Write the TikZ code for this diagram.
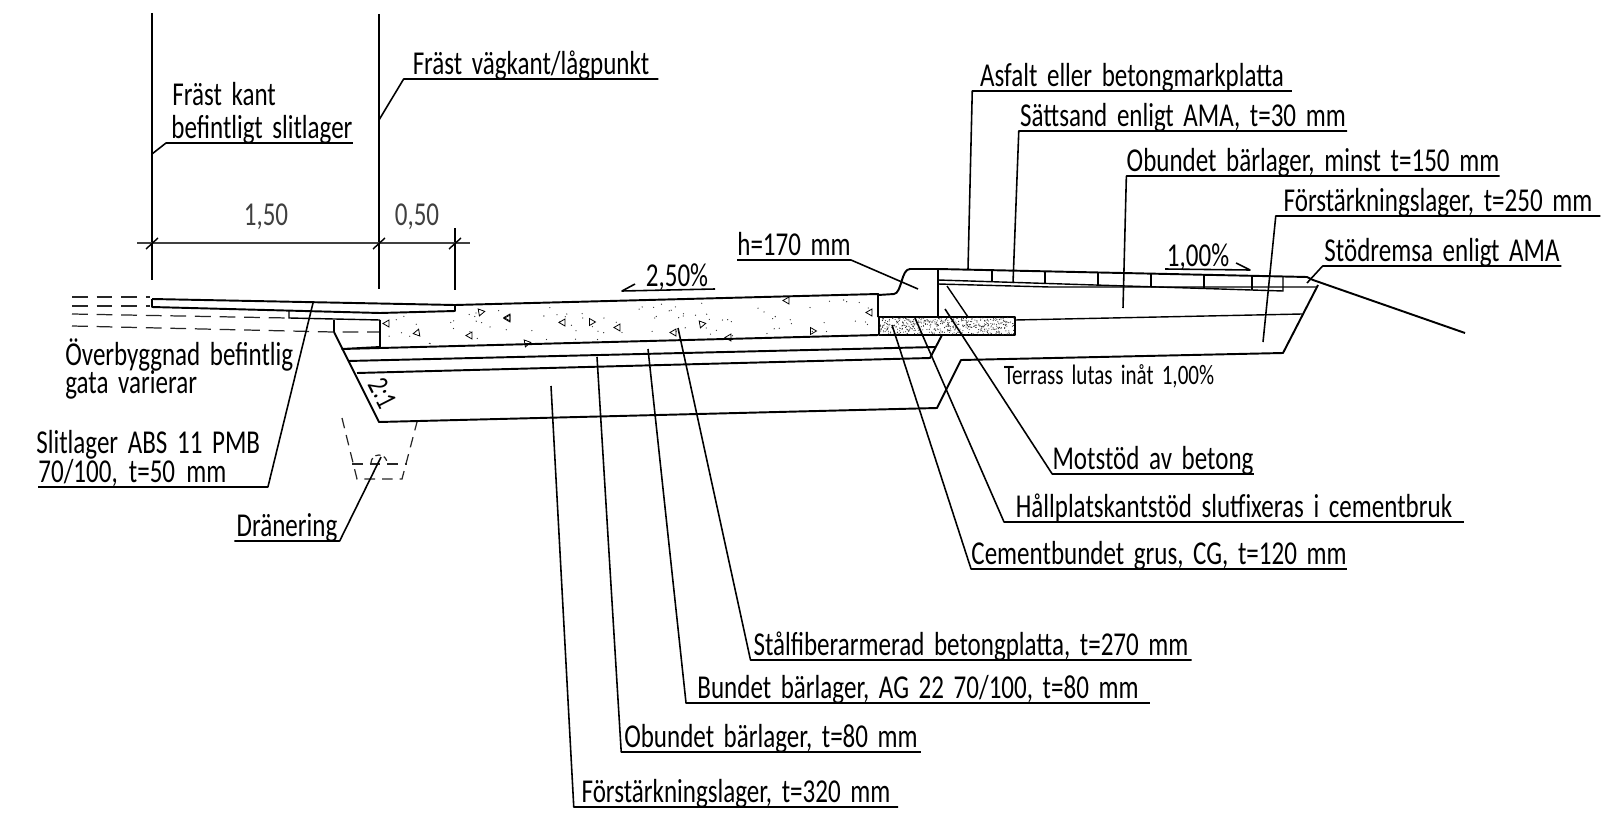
\documentclass[tikz,border=0pt]{standalone}
\usepackage{fontspec}
\setmainfont{Carlito}[FakeStretch=0.75,WordSpace=1.7]
\tikzset{
    road/.style={line width=1.1pt, black, line join=round},
    thinline/.style={line width=0.8pt, black},
    dashline/.style={line width=0.7pt, black!85, dash pattern=on 9pt off 5pt},
    leader/.style={line width=0.9pt, black, line join=round},
    dimline/.style={line width=0.6pt, black!75},
    notelabel/.style={anchor=south, inner xsep=0pt, inner ysep=0pt, text height=15pt, text depth=2.2pt, font=\fontsize{19}{21}\selectfont, minimum width=#1*0.567pt},
    plainlabel/.style={inner sep=0pt, font=\fontsize{19}{21}\selectfont},
    grain/.style={line width=0.45pt, black}
}
\begin{document}
\begin{tikzpicture}[x=0.02cm, y=-0.02cm]
    \useasboundingbox (0,0) rectangle (1601,814);

    % Dimension lines at the top
    \coordinate (ext_a_top) at (152,13);
    \coordinate (ext_a_low) at (152,280);
    \coordinate (ext_b_top) at (379,14);
    \coordinate (ext_b_low) at (379,289);
    \coordinate (ext_c_top) at (455,228);
    \coordinate (ext_c_low) at (455,290);
    \coordinate (dim_left) at (137,243);
    \coordinate (dim_right) at (470,243);
    \draw[road] (ext_a_top) -- (ext_a_low);
    \draw[road] (ext_b_top) -- (ext_b_low);
    \draw[thinline] (ext_c_top) -- (ext_c_low);
    \draw[dimline] (dim_left) -- (dim_right);
    \foreach \xtick in {152,379,455} {
        \draw[thinline] (\xtick-6,249) -- (\xtick+6,238);
    }
    \node[plainlabel, black!75] (dim_150) at (266,217) {1,50};
    \node[plainlabel, black!75] (dim_050) at (417,217) {0,50};

    % Existing street on the left
    \begin{scope}[local bounding box=oldstreet]
        \draw[road] (152,299) -- (455,305);
        \draw[road] (152,299) -- (152,307) -- (380,313) -- (455,311) -- (455,305);
        \draw[thinline] (289,310) -- (289,318) -- (380,320);
        \draw[thinline] (334,320) -- (334,332);
        \draw[dashline] (72,297) -- (150,297);
        \draw[dashline] (72,306) -- (150,306);
        \draw[dashline] (72,314) -- (288,318);
        \draw[dashline] (72,326) -- (333,332) -- (379,332);
    \end{scope}

    % Concrete slab
    \begin{scope}[local bounding box=slab]
        \draw[road] (455,305) -- (878,294) -- (878,317);
        \draw[road] (380,320) -- (380,347) -- (342,349) -- (878,335);
        \pgfmathsetseed{27}
        \foreach \k in {1,...,90} {
            \pgfmathsetmacro{\px}{385+rnd*488}
            \pgfmathsetmacro{\py}{345-(\px-380)*0.0245-rnd*34}
            \fill[black!80] (\px,\py) circle (0.65);
        }
        \foreach \tx/\ty/\trot in {389/323/90, 417/335/200, 472/335/90, 481/310/20, 510/317/90,
            510/318/90, 565/322/90, 592/320/30, 620/327/90, 676/332/90, 702/322/20, 731/337/90,
            789/300/90, 813/329/30, 872/312/90, 527/341/20} {
            \draw[grain] (\tx,\ty) ++(\trot:4) -- ++(\trot+120:7) -- ++(\trot+240:7) -- cycle;
        }
    \end{scope}

    % Layers under the slab
    \begin{scope}[local bounding box=layers]
        \draw[road] (334,332) -- (379,422) -- (937,408) -- (961,360) -- (1283,353) -- (1318,285);
        \draw[road] (348,361) -- (935,347);
        \draw[road] (357,373) -- (930,358) -- (942,335);
        \node[plainlabel, rotate=-63, font=\fontsize{17}{17}\selectfont] (slope_21) at (383,393) {2:1};
    \end{scope}

    % Kerb and cement bound gravel
    \begin{scope}[local bounding box=kerb]
        \draw[road] (878,295) -- (894,294) .. controls (902,293) and (901,269) .. (910,269) -- (938,269) -- (938,317);
        \draw[road] (879,317) rectangle (1015,335);
        \begin{scope}
            \clip (879,317) rectangle (1015,335);
            \pgfmathsetseed{11}
            \foreach \k in {1,...,520} {
                \fill[black!85] (879+rnd*136,317+rnd*18) circle (0.55);
            }
        \end{scope}
    \end{scope}

    % Pavement behind the kerb
    \begin{scope}[local bounding box=pavement]
        \draw[road] (938,269) -- (1307,277) -- (1313,280) -- (1465,333);
        \draw[thinline] (938,280) -- (1283,291) -- (1283,277);
        \draw[thinline] (938,284) -- (1050,287) -- (1317,287);
        \foreach \xjoint in {992,1045,1098,1151,1204,1252} {
            \draw[thinline] (\xjoint,{269+(\xjoint-938)*0.0217}) -- (\xjoint,{280+(\xjoint-938)*0.0319});
        }
        \draw[thinline] (947,286) -- (968,317);
        \draw[thinline] (1015,320) -- (1302,314);
    \end{scope}

    % Drainage
    \begin{scope}[local bounding box=drainage]
        \draw[dashline, dash pattern=on 6pt off 4pt] (342,418) -- (357,479) -- (402,479) -- (417,422);
        \draw[dashline, dash pattern=on 6pt off 4pt] (352,464) -- (407,464);
        \draw[dashline, dash pattern=on 3pt off 2pt] (371,463) arc (180:360:8);
    \end{scope}

    % Slopes
    \node[plainlabel] (slope_250) at (677,277) {2,50\%};
    \draw[leader] (635,284) -- (622,291) -- (715,289);
    \node[plainlabel] (slope_100) at (1198,257) {1,00\%};
    \draw[leader] (1165,269) -- (1250,270) -- (1236,263);
    \node[plainlabel, font=\fontsize{16}{17}\selectfont] (terrace) at (1109,376) {Terrass lutas inåt 1,00\%};

    % Notes on the left
    \node[notelabel=181] (note_kant) at (262,143) {befintligt slitlager};
    \node[plainlabel, anchor=west] (note_kant_top) at (172,94) {Fräst kant};
    \coordinate (pt_kant) at (152,154);
    \coordinate (bend_kant) at (166,143);
    \draw[leader] (pt_kant) -- (bend_kant) -- (note_kant.south east);

    \node[notelabel=255] (note_kant2) at (531,79) {Fräst vägkant/lågpunkt};
    \coordinate (pt_kant2) at (379,120);
    \draw[leader] (pt_kant2) -- (note_kant2.south west) -- (note_kant2.south east);

    \node[plainlabel, anchor=west] (note_old) at (65,355) {Överbyggnad befintlig};
    \node[plainlabel, anchor=west] (note_old2) at (65,385) {gata varierar};

    \node[notelabel=230, text width=230*0.567pt, align=left] (note_slit) at (153,487) {70/100, t=50 mm};
    \node[plainlabel, anchor=west] (note_slit_top) at (36,445) {Slitlager ABS 11 PMB};
    \coordinate (pt_slit) at (313,303);
    \draw[leader] (pt_slit) -- (note_slit.south east) -- (note_slit.south west);

    \node[notelabel=105] (note_drain) at (287,541) {Dränering};
    \coordinate (pt_drain) at (381,457);
    \draw[leader] (pt_drain) -- (note_drain.south east) -- (note_drain.south west);

    % Notes under the road
    \node[notelabel=442] (note_steel) at (971,660) {Stålfiberarmerad betongplatta, t=270 mm};
    \coordinate (pt_steel) at (678,328);
    \draw[leader] (pt_steel) -- (note_steel.south west) -- (note_steel.south east);

    \node[notelabel=465] (note_bound) at (918,703) {Bundet bärlager, AG 22 70/100, t=80 mm};
    \coordinate (pt_bound) at (648,349);
    \draw[leader] (pt_bound) -- (note_bound.south west) -- (note_bound.south east);

    \node[notelabel=300] (note_unbound) at (771,752) {Obundet bärlager, t=80 mm};
    \coordinate (pt_unbound) at (597,357);
    \draw[leader] (pt_unbound) -- (note_unbound.south west) -- (note_unbound.south east);

    \node[notelabel=325] (note_reinf) at (736,807) {Förstärkningslager, t=320 mm};
    \coordinate (pt_reinf) at (551,386);
    \draw[leader] (pt_reinf) -- (note_reinf.south west) -- (note_reinf.south east);

    % Notes on the right
    \node[notelabel=112] (note_h) at (794,260) {h=170 mm};
    \coordinate (pt_h) at (918,289);
    \draw[leader] (pt_h) -- (note_h.south east) -- (note_h.south west);

    \node[notelabel=199] (note_stop) at (1153,474) {Motstöd av betong};
    \coordinate (pt_stop) at (945,309);
    \draw[leader] (pt_stop) -- (note_stop.south west) -- (note_stop.south east);

    \node[notelabel=461] (note_fix) at (1234,522) {Hållplatskantstöd slutfixeras i cementbruk};
    \coordinate (pt_fix) at (915,318);
    \draw[leader] (pt_fix) -- (note_fix.south west) -- (note_fix.south east);

    \node[notelabel=374] (note_cg) at (1159,569) {Cementbundet grus, CG, t=120 mm};
    \coordinate (pt_cg) at (892,325);
    \draw[leader] (pt_cg) -- (note_cg.south west) -- (note_cg.south east);

    \node[notelabel=320] (note_asphalt) at (1132,91) {Asfalt eller betongmarkplatta};
    \coordinate (pt_asphalt) at (968,269);
    \draw[leader] (pt_asphalt) -- (note_asphalt.south west) -- (note_asphalt.south east);

    \node[notelabel=329] (note_sand) at (1183,131) {Sättsand enligt AMA, t=30 mm};
    \coordinate (pt_sand) at (1013,283);
    \draw[leader] (pt_sand) -- (note_sand.south west) -- (note_sand.south east);

    \node[notelabel=371] (note_base) at (1313,176) {Obundet bärlager, minst t=150 mm};
    \coordinate (pt_base) at (1123,308);
    \draw[leader] (pt_base) -- (note_base.south west) -- (note_base.south east);

    \node[notelabel=325] (note_reinf2) at (1438,216) {Förstärkningslager, t=250 mm};
    \coordinate (pt_reinf2) at (1263,342);
    \draw[leader] (pt_reinf2) -- (note_reinf2.south west) -- (note_reinf2.south east);

    \node[notelabel=239] (note_edge) at (1442,266) {Stödremsa enligt AMA};
    \coordinate (pt_edge) at (1307,283);
    \draw[leader] (pt_edge) -- (note_edge.south west) -- (note_edge.south east);

\end{tikzpicture}
\end{document}
